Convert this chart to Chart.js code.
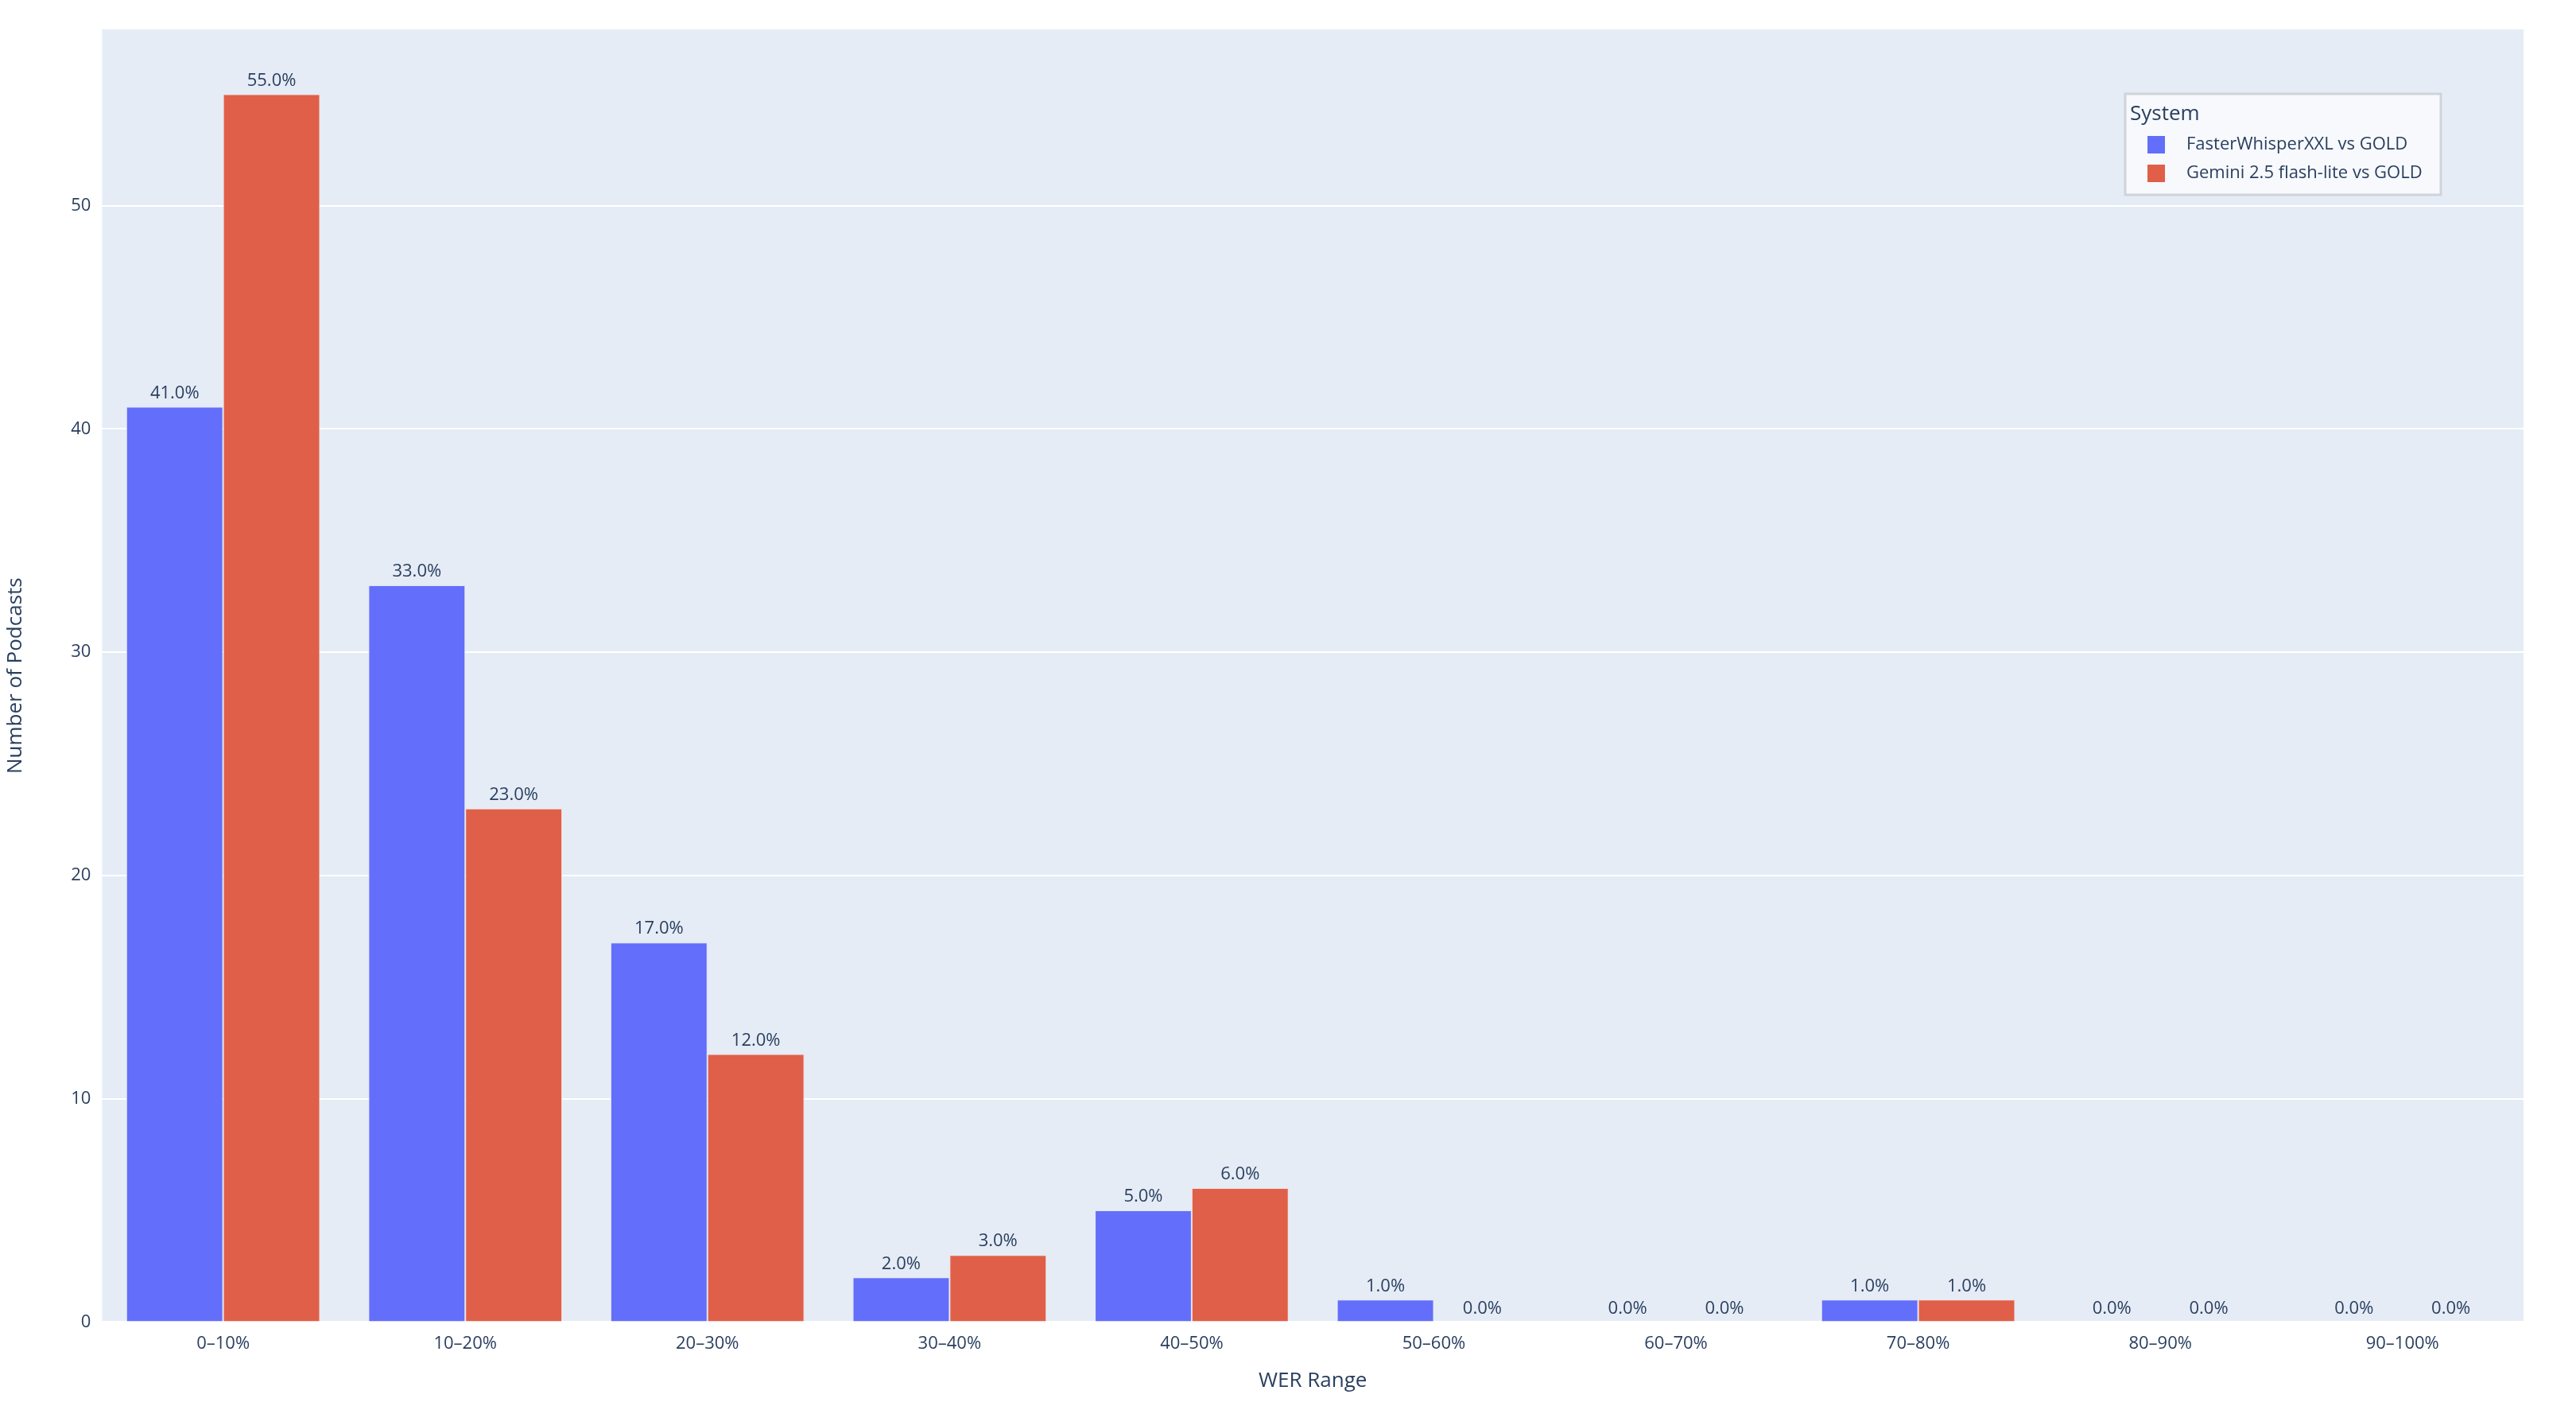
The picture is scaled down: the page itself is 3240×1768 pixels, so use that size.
<!DOCTYPE html>
<html>
<head>
<meta charset="utf-8">
<script src="https://cdn.jsdelivr.net/npm/chart.js@4/dist/chart.umd.min.js"></script>
<style>
  html, body { margin: 0; padding: 0; background: #fff; }
  canvas { display: block; }
</style>
</head>
<body>
<canvas id="werChart" width="3240" height="1768"></canvas>
<script>
// 데이터
const categories = ['0–10%', '10–20%', '20–30%', '30–40%', '40–50%', '50–60%', '60–70%', '70–80%', '80–90%', '90–100%'];
const whisperCounts = [41, 33, 17, 2, 5, 1, 0, 1, 0, 0];
const geminiCounts = [55, 23, 12, 3, 6, 0, 0, 1, 0, 0];
const seriesNames = ['FasterWhisperXXL vs GOLD', 'Gemini 2.5 flash-lite vs GOLD'];
const totalPodcasts = 100;

const textColor = '#2a3f5f';
const fontFamily = "'Open Sans', 'Noto Sans', sans-serif";

// 플롯 배경
const plotBg = {
    id: 'plotBg',
    beforeDraw(chart) {
        const { ctx, chartArea: a } = chart;
        ctx.save();
        ctx.fillStyle = '#e5ecf6';
        ctx.fillRect(a.left, a.top, a.right - a.left, a.bottom - a.top);
        ctx.restore();
    }
};

// 막대 위 퍼센트 라벨
const barLabels = {
    id: 'barLabels',
    afterDatasetsDraw(chart) {
        const ctx = chart.ctx;
        ctx.save();
        ctx.font = '22px ' + fontFamily;
        ctx.fillStyle = textColor;
        ctx.textAlign = 'center';
        ctx.textBaseline = 'bottom';
        chart.data.datasets.forEach((ds, i) => {
            chart.getDatasetMeta(i).data.forEach((bar, j) => {
                const pct = (ds.data[j] / totalPodcasts * 100).toFixed(1) + '%';
                ctx.fillText(pct, bar.x, bar.y - 6);
            });
        });
        ctx.restore();
    }
};

// 범례 박스
const legendBox = {
    id: 'legendBox',
    afterDraw(chart) {
        const ctx = chart.ctx;
        const x = 2673, y = 118, w = 397, h = 127;
        ctx.save();
        ctx.fillStyle = '#f7f9fc';
        ctx.strokeStyle = '#cfd3da';
        ctx.lineWidth = 3;
        ctx.fillRect(x, y, w, h);
        ctx.strokeRect(x, y, w, h);
        ctx.fillStyle = textColor;
        ctx.textBaseline = 'middle';
        ctx.font = '26px ' + fontFamily;
        ctx.fillText('System', x + 6, y + 26);
        ctx.font = '22px ' + fontFamily;
        chart.data.datasets.forEach((ds, i) => {
            const cy = y + 64 + i * 36;
            ctx.fillStyle = ds.backgroundColor;
            ctx.fillRect(x + 28, cy - 11, 22, 22);
            ctx.fillStyle = textColor;
            ctx.fillText(seriesNames[i], x + 77, cy);
        });
        ctx.restore();
    }
};

new Chart(document.getElementById('werChart').getContext('2d'), {
    type: 'bar',
    data: {
        labels: categories,
        datasets: [
            { label: seriesNames[0], data: whisperCounts, backgroundColor: '#636efa', borderColor: '#dfe3f5', borderWidth: 1 },
            { label: seriesNames[1], data: geminiCounts, backgroundColor: '#e05f48', borderColor: '#f1dcd7', borderWidth: 1 }
        ]
    },
    options: {
        responsive: false,
        devicePixelRatio: 1,
        animation: false,
        layout: { padding: { top: 37, right: 66, bottom: 12, left: 0 } },
        datasets: { bar: { categoryPercentage: 0.8, barPercentage: 1.0 } },
        plugins: {
            legend: { display: false },
            tooltip: { enabled: false }
        },
        scales: {
            x: {
                grid: { display: false },
                border: { display: false },
                ticks: { color: textColor, font: { size: 22, family: fontFamily }, padding: 6, maxRotation: 0 },
                title: { display: true, text: 'WER Range', color: textColor, font: { size: 26, family: fontFamily }, padding: { top: 12 } }
            },
            y: {
                min: 0,
                max: 57.9,
                afterBuildTicks(axis) {
                    axis.ticks = [0, 10, 20, 30, 40, 50].map(v => ({ value: v }));
                },
                grid: { color: '#ffffff', lineWidth: 2, drawTicks: false },
                border: { display: false },
                ticks: { color: textColor, font: { size: 22, family: fontFamily }, padding: 14 },
                title: { display: true, text: 'Number of Podcasts', color: textColor, font: { size: 26, family: fontFamily }, padding: { bottom: 40 } }
            }
        }
    },
    plugins: [plotBg, barLabels, legendBox]
});
</script>
</body>
</html>
